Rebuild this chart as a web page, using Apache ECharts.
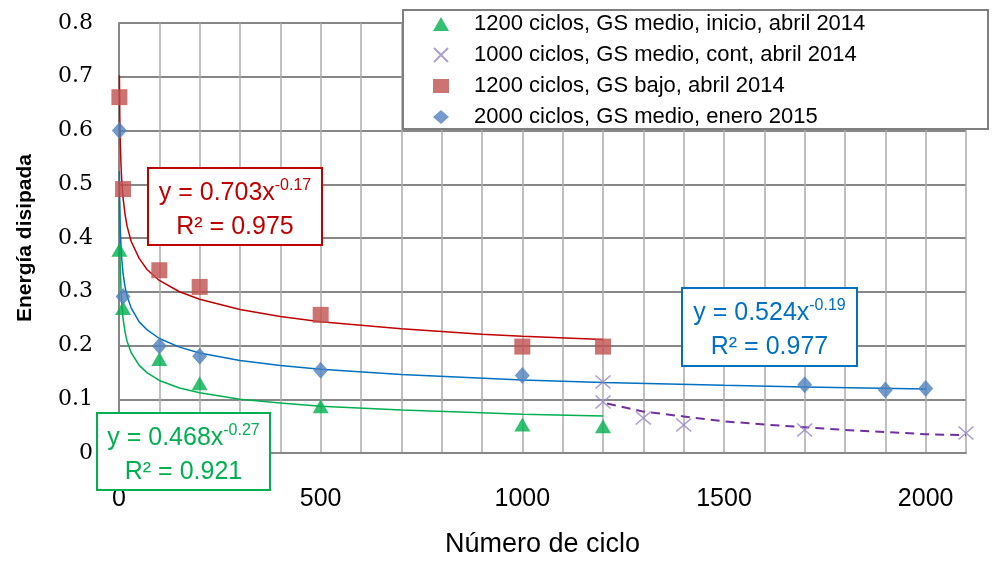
<!DOCTYPE html>
<html>
<head>
<meta charset="utf-8">
<script src="https://cdn.jsdelivr.net/npm/echarts@6/dist/echarts.min.js"></script>
<style>
html,body{margin:0;padding:0;background:#fff;}
#chart{width:992px;height:567px;}
</style>
</head>
<body>
<div id="chart"></div>
<script>
// ---- data ----
const seriesNames = [
  '1200 ciclos, GS medio, inicio, abril 2014',
  '1000 ciclos, GS medio, cont, abril 2014',
  '1200 ciclos, GS bajo, abril 2014',
  '2000 ciclos, GS medio, enero 2015'
];
const greenX = [1, 10, 100, 200, 500, 1000, 1200];
const greenY = [0.378, 0.270, 0.175, 0.130, 0.087, 0.053, 0.050];
const purpleX = [1200, 1200, 1300, 1400, 1700, 2100];
const purpleY = [0.132, 0.095, 0.065, 0.052, 0.043, 0.037];
const redX = [1, 10, 100, 200, 500, 1000, 1200];
const redY = [0.662, 0.491, 0.340, 0.309, 0.257, 0.198, 0.198];
const blueX = [1, 10, 100, 200, 500, 1000, 1700, 1900, 2000];
const blueY = [0.600, 0.291, 0.199, 0.180, 0.154, 0.144, 0.127, 0.117, 0.120];

// trend lines, sampled from the curves in the picture
const trendX = [1, 2, 3, 5, 7, 10, 15, 20, 30, 50, 70, 100, 150, 200, 300, 400, 500, 700, 900, 1000, 1200];
const redTrend = [0.703, 0.625, 0.583, 0.535, 0.505, 0.475, 0.444, 0.422, 0.394, 0.362, 0.341, 0.321, 0.300, 0.286, 0.267, 0.254, 0.244, 0.231, 0.221, 0.217, 0.211];
const greenTrend = [0.468, 0.388, 0.348, 0.303, 0.277, 0.251, 0.225, 0.208, 0.187, 0.163, 0.149, 0.135, 0.121, 0.112, 0.100, 0.093, 0.087, 0.080, 0.075, 0.072, 0.069];
const blueTrendX = [1, 2, 3, 5, 7, 10, 15, 20, 30, 50, 70, 100, 150, 200, 300, 400, 500, 700, 1000, 1200, 1500, 1700, 2000];
const blueTrend = [0.524, 0.458, 0.423, 0.383, 0.359, 0.334, 0.309, 0.292, 0.270, 0.244, 0.229, 0.213, 0.197, 0.186, 0.172, 0.163, 0.156, 0.146, 0.136, 0.131, 0.126, 0.123, 0.119];
const purpleTrendX = [1210, 1300, 1400, 1500, 1600, 1700, 1800, 1900, 2000, 2100];
const purpleTrend = [0.092, 0.077, 0.068, 0.059, 0.053, 0.048, 0.043, 0.039, 0.035, 0.033];

const eqRed = ['y = 0.703x', '-0.17', 'R² = 0.975'];
const eqBlue = ['y = 0.524x', '-0.19', 'R² = 0.977'];
const eqGreen = ['y = 0.468x', '-0.27', 'R² = 0.921'];

const xTitle = 'Número de ciclo';
const yTitle = 'Energía disipada';

// ---- build ----
const zip = (xs, ys) => xs.map((x, i) => [x, ys[i]]);
const SANS = '"Liberation Sans", Arial, sans-serif';

function eqBox(x, y, w, h, color, eq) {
  return [
    { type: 'rect', z: 100, shape: { x: x, y: y, width: w, height: h },
      style: { fill: '#ffffff', stroke: color, lineWidth: 2 } },
    { type: 'text', z: 101, x: x + w / 2, y: y + 24,
      style: {
        text: '{m|' + eq[0] + '}{s|' + eq[1] + '}',
        align: 'center', verticalAlign: 'middle',
        rich: {
          m: { fontSize: 25, fontFamily: SANS, fill: color, lineHeight: 28, verticalAlign: 'bottom' },
          s: { fontSize: 16, fontFamily: SANS, fill: color, lineHeight: 16, verticalAlign: 'top' }
        }
      } },
    { type: 'text', z: 101, x: x + w / 2, y: y + 59,
      style: { text: eq[2], align: 'center', verticalAlign: 'middle',
        fontSize: 25, fontFamily: SANS, fill: color } }
  ];
}

const chart = echarts.init(document.getElementById('chart'), null, { renderer: 'canvas' });

const lineCommon = { type: 'line', showSymbol: false, symbol: 'none', silent: true, z: 2, animation: false };
const xPath = 'path://M0,0L10,10M10,0L0,10';

chart.setOption({
  animation: false,
  backgroundColor: '#fff',
  grid: { left: 119, right: 26, top: 23, bottom: 114, containLabel: false },
  xAxis: {
    type: 'value', min: 0, max: 2100, interval: 100,
    name: xTitle, nameLocation: 'middle', nameGap: 78,
    nameTextStyle: { fontSize: 27, fontFamily: SANS, color: '#000' },
    axisLine: { show: true, onZero: false, lineStyle: { color: '#878787', width: 2 } },
    axisTick: { show: false },
    axisLabel: { margin: 34, fontSize: 25, fontFamily: SANS, color: '#000',
      formatter: v => (v % 500 === 0 ? String(v) : '') },
    splitLine: { show: true, lineStyle: { color: '#ababab', width: 1.5 } }
  },
  yAxis: {
    type: 'value', min: 0, max: 0.8, interval: 0.1,
    name: yTitle, nameLocation: 'middle', nameGap: 83, nameRotate: 90,
    nameTextStyle: { fontSize: 21, fontWeight: 'bold', fontFamily: SANS, color: '#000' },
    axisLine: { show: true, onZero: false, lineStyle: { color: '#878787', width: 2 } },
    axisTick: { show: false },
    axisLabel: { margin: 26, fontSize: 22, fontFamily: '"DejaVu Serif", serif', color: '#000',
      formatter: v => (v === 0 ? '0' : v.toFixed(1)) },
    splitLine: { show: true, lineStyle: { color: '#878787', width: 2 } }
  },
  legend: {
    orient: 'vertical', left: 433, top: 13, padding: 0, z: 10,
    itemWidth: 16, itemHeight: 14, itemGap: 9,
    data: seriesNames,
    textStyle: { fontSize: 22, lineHeight: 22, fontFamily: SANS, color: '#000', padding: [0, 0, 0, 20] }
  },
  graphic: [
    { type: 'rect', z: 3, shape: { x: 403, y: 10, width: 585, height: 119 },
      style: { fill: '#fff', stroke: '#7f7f7f', lineWidth: 2 } }
  ].concat(
    eqBox(148, 168, 174, 77, '#c00000', eqRed),
    eqBox(682, 288, 175, 78, '#0070c0', eqBlue),
    eqBox(97, 413, 173, 77, '#00b050', eqGreen)
  ),
  series: [
    Object.assign({}, lineCommon, { name: 'trend-red', data: zip(trendX, redTrend), lineStyle: { color: '#c00000', width: 1.5 } }),
    Object.assign({}, lineCommon, { name: 'trend-green', data: zip(trendX, greenTrend), lineStyle: { color: '#00b050', width: 1.5 } }),
    Object.assign({}, lineCommon, { name: 'trend-blue', data: zip(blueTrendX, blueTrend), lineStyle: { color: '#0070c0', width: 1.5 } }),
    Object.assign({}, lineCommon, { name: 'trend-purple', data: zip(purpleTrendX, purpleTrend), lineStyle: { color: '#7030a0', width: 2, type: [9, 6] } }),
    { name: seriesNames[0], type: 'scatter', z: 5, symbol: 'triangle', symbolSize: [16, 14],
      itemStyle: { color: '#00b050' }, data: zip(greenX, greenY) },
    { name: seriesNames[1], type: 'scatter', z: 5, symbol: xPath, symbolSize: [15, 13],
      itemStyle: { color: 'rgba(0,0,0,0)', borderColor: '#9a86c4', borderWidth: 1.5 }, data: zip(purpleX, purpleY) },
    { name: seriesNames[2], type: 'scatter', z: 5, symbol: 'rect', symbolSize: 16,
      itemStyle: { color: '#c0504d' }, data: zip(redX, redY) },
    { name: seriesNames[3], type: 'scatter', z: 5, symbol: 'diamond', symbolSize: [15, 17],
      itemStyle: { color: '#4f81bd' }, data: zip(blueX, blueY) }
  ]
});
</script>
</body>
</html>
